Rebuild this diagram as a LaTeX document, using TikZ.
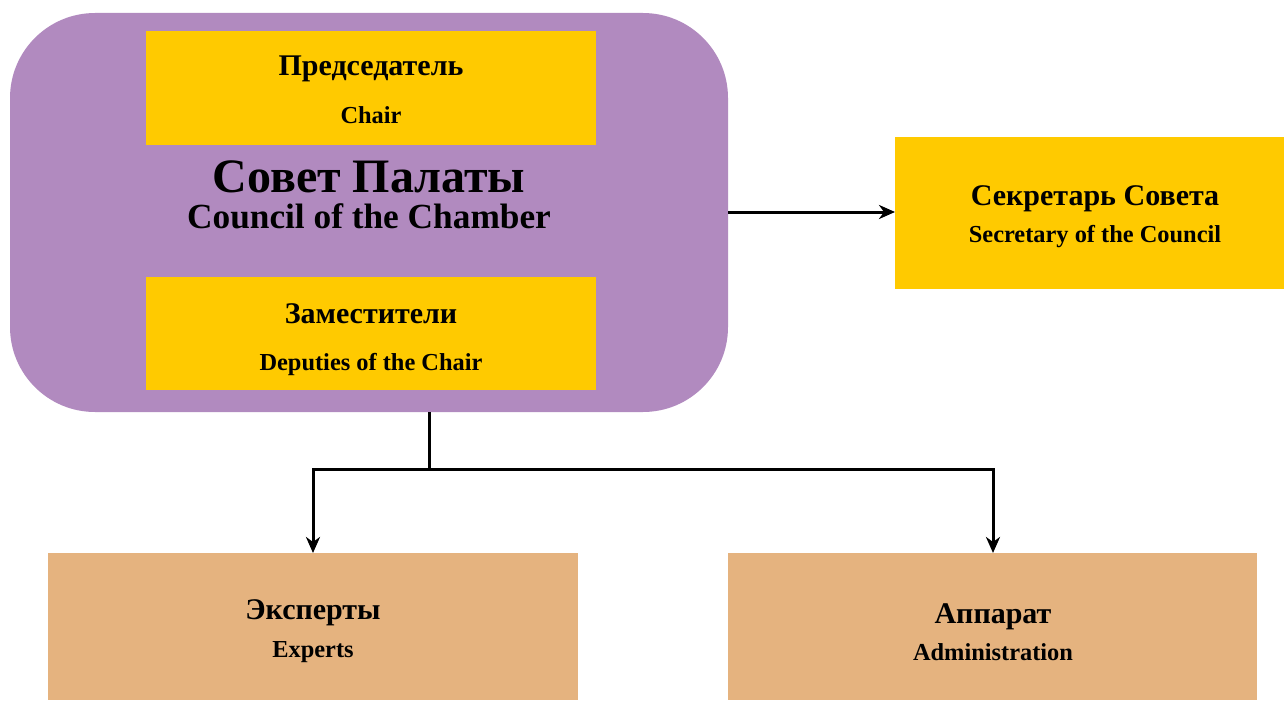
\documentclass[tikz,border=0pt]{standalone}
\usepackage{fontspec}
\setmainfont{Liberation Serif}
\usetikzlibrary{arrows.meta}
\definecolor{councilpurple}{HTML}{B18ABF}
\definecolor{boxyellow}{HTML}{FFCA00}
\definecolor{boxtan}{HTML}{E5B37F}
\tikzset{
  box/.style={draw=none, inner sep=0pt, outer sep=0pt},
  big/.style={font=\bfseries\fontsize{30}{36}\selectfont, anchor=base, inner sep=0pt},
  small/.style={font=\bfseries\fontsize{24.4}{28}\selectfont, anchor=base, inner sep=0pt},
  huge/.style={font=\bfseries\fontsize{48}{54}\selectfont, anchor=base, inner sep=0pt},
  mid/.style={font=\bfseries\fontsize{35.3}{40}\selectfont, anchor=base, inner sep=0pt},
  conn/.style={line width=3pt, -{Stealth[length=16pt,width=14pt,inset=5pt]}},
  plain/.style={line width=3pt}
}
\begin{document}
\begin{tikzpicture}[x=1pt,y=-1pt]
\useasboundingbox (0,0) rectangle (1284,701);
% boxes
\node[box, fill=councilpurple, rounded corners=85pt, minimum width=718pt, minimum height=399pt] (council) at (369,212.5) {};
\node[box, fill=boxyellow, minimum width=450pt, minimum height=114pt] (chair) at (371,88) {};
\node[box, fill=boxyellow, minimum width=450pt, minimum height=113pt] (deputies) at (371,333.5) {};
\node[box, fill=boxyellow, minimum width=389pt, minimum height=152pt] (secretary) at (1089.5,213) {};
\node[box, fill=boxtan, minimum width=530pt, minimum height=147pt] (experts) at (313,626.5) {};
\node[box, fill=boxtan, minimum width=529pt, minimum height=147pt] (apparat) at (992.5,626.5) {};
% texts
\node[big] (chairru) at (371,75) {Председатель};
\node[small] (chairen) at (371,123) {Chair};
\node[huge] (councilru) at (369,192) {Совет Палаты};
\node[mid] (councilen) at (369,228) {Council of the Chamber};
\node[big] (depru) at (371,323) {Заместители};
\node[small] (depen) at (371,370) {Deputies of the Chair};
\node[big] (secru) at (1095,205) {Секретарь Совета};
\node[small] (secen) at (1095,242) {Secretary of the Council};
\node[big] (expru) at (313,619) {Эксперты};
\node[small] (expen) at (313,657) {Experts};
\node[big] (appru) at (993,623) {Аппарат};
\node[small] (appen) at (993,660) {Administration};
% connectors
\coordinate (split) at (429,469);
\draw[conn] (council.east |- 0,212) -- (secretary.west |- 0,212);
\draw[plain] (council.south -| split) -- (split);
\draw[conn] (split) -| (experts.north -| 313,0);
\draw[conn] (split) -| (apparat.north -| 993,0);
\end{tikzpicture}
\end{document}
